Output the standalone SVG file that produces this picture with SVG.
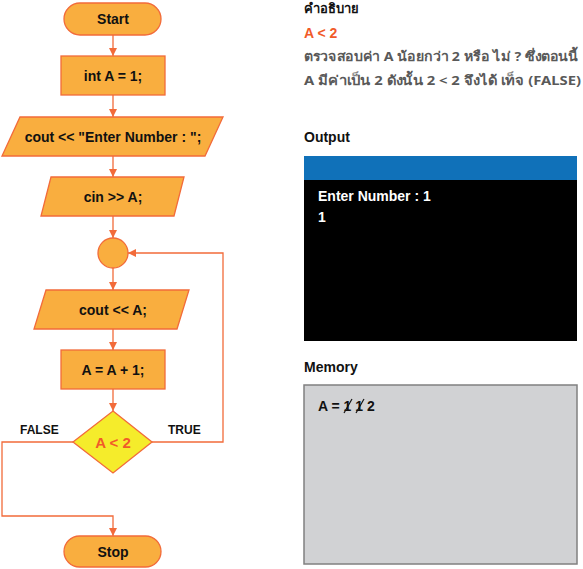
<svg xmlns="http://www.w3.org/2000/svg" width="583" height="569" viewBox="0 0 583 569">
<style>
.n{fill:#f9ae3f;stroke:#f26b3a;stroke-width:1.3}
.t{font-family:"Liberation Sans",Arial,sans-serif;font-weight:bold;font-size:14px;fill:#111;text-anchor:middle;dominant-baseline:central}
.c{fill:none;stroke:#f26b3a;stroke-width:1.3}
.h{font-family:"Liberation Sans",Arial,sans-serif;font-weight:bold;font-size:14px;fill:#111}
.th{font-family:"Noto Sans","Liberation Sans",sans-serif;font-weight:bold;font-size:13px;fill:#595959}
.lb{font-family:"Liberation Sans",Arial,sans-serif;font-weight:bold;font-size:12px;fill:#111}
.w{font-family:"Liberation Sans",Arial,sans-serif;font-weight:bold;font-size:14px;fill:#fff}
</style>
<defs>
<marker id="ar" viewBox="0 0 10 10" refX="10" refY="5" markerWidth="10" markerHeight="8" markerUnits="userSpaceOnUse" orient="auto">
<path d="M0,0 L10,5 L0,10 z" fill="#f26b3a"/>
</marker>
</defs>
<rect width="583" height="569" fill="#fff"/>
<g id="connectors">
<line class="c" x1="113" y1="35" x2="113" y2="56" marker-end="url(#ar)"/>
<line class="c" x1="113" y1="95" x2="113" y2="117" marker-end="url(#ar)"/>
<line class="c" x1="113" y1="156" x2="113" y2="177" marker-end="url(#ar)"/>
<line class="c" x1="113" y1="216" x2="113" y2="238" marker-end="url(#ar)"/>
<line class="c" x1="113" y1="268" x2="113" y2="290" marker-end="url(#ar)"/>
<line class="c" x1="113" y1="329" x2="113" y2="350" marker-end="url(#ar)"/>
<line class="c" x1="113" y1="389" x2="113" y2="411" marker-end="url(#ar)"/>
<polyline class="c" points="73,442 2,442 2,516 113,516 113,536" marker-end="url(#ar)"/>
<polyline class="c" points="152,442 223,442 223,253 128,253" marker-end="url(#ar)"/>
<text class="lb" x="20" y="434">FALSE</text>
<text class="lb" x="168" y="434">TRUE</text>
</g>
<g id="start"><rect class="n" x="64" y="3" width="97" height="32" rx="16"/><text class="t" x="113" y="19">Start</text></g>
<g id="init"><rect class="n" x="61" y="56" width="104" height="39"/><text class="t" x="113" y="75.5">int A = 1;</text></g>
<g id="prompt"><polygon class="n" points="20,117 223,117 205,156 2,156"/><text class="t" x="113" y="136.5">cout &lt;&lt; "Enter Number : ";</text></g>
<g id="input"><polygon class="n" points="51,177 184,177 174,216 41,216"/><text class="t" x="113" y="196.5">cin &gt;&gt; A;</text></g>
<g id="join"><circle class="n" cx="113" cy="253" r="15"/></g>
<g id="print"><polygon class="n" points="46,290 189,290 177,329 34,329"/><text class="t" x="113" y="309.5">cout &lt;&lt; A;</text></g>
<g id="incr"><rect class="n" x="61" y="350" width="104" height="39"/><text class="t" x="113" y="369.5">A = A + 1;</text></g>
<g id="cond"><polygon points="113,411 152,442 113,473 73,442" fill="#f5ec2b" stroke="#f26b3a" stroke-width="1.3"/><text class="t" x="113" y="442" style="fill:#f15a29;font-size:15px">A &lt; 2</text></g>
<g id="stop"><rect class="n" x="64" y="536" width="97" height="31" rx="15.5"/><text class="t" x="113" y="551.5">Stop</text></g>
<g id="explain">
<text class="h" x="304" y="13" style="font-family:'Noto Sans','Liberation Sans',sans-serif;font-size:13px">คำอธิบาย</text>
<text class="h" x="304" y="38" style="fill:#f15a29">A &lt; 2</text>
<text class="th" x="304" y="61" textLength="274" lengthAdjust="spacingAndGlyphs">ตรวจสอบค่า A น้อยกว่า 2 หรือ ไม่ ? ซึ่งตอนนี้</text>
<text class="th" x="304" y="85" textLength="277" lengthAdjust="spacingAndGlyphs">A มีค่าเป็น 2 ดังนั้น 2 &lt; 2 จึงได้ เท็จ (FALSE)</text>
</g>
<g id="output">
<text class="h" x="304" y="142">Output</text>
<rect x="304" y="156" width="273" height="24" fill="#1071b9"/>
<rect x="304" y="180" width="273" height="161" fill="#000"/>
<text class="w" x="318" y="201">Enter Number : 1</text>
<text class="w" x="318" y="222">1</text>
</g>
<g id="memory">
<text class="h" x="304" y="372">Memory</text>
<rect x="304" y="385" width="273" height="179" fill="#d1d2d4" stroke="#808080" stroke-width="1.5"/>
<text class="h" x="318" y="411">A = 1 1 2</text>
<line x1="344" y1="413" x2="352" y2="399" stroke="#111" stroke-width="1.2"/>
<line x1="356" y1="413" x2="364" y2="399" stroke="#111" stroke-width="1.2"/>
</g>
</svg>
